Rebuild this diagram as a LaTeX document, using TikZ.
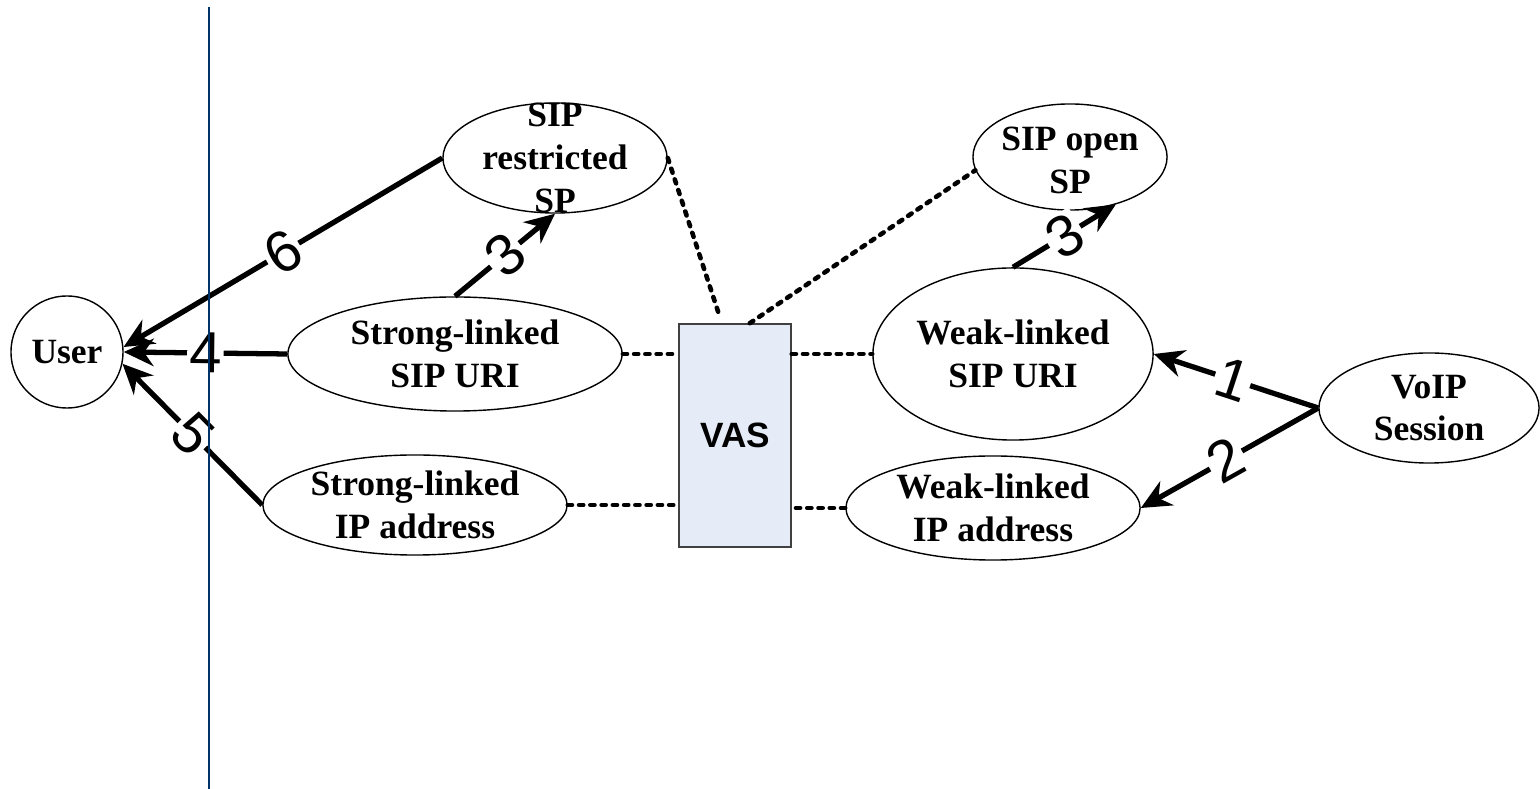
\documentclass[tikz,border=0pt]{standalone}
\usepackage{fontspec}
\setmainfont{Liberation Serif}
\setsansfont{Liberation Sans}
\usetikzlibrary{shapes.geometric,arrows.meta,calc}
\definecolor{vasfill}{RGB}{230,236,247}
\definecolor{rulecol}{RGB}{0,51,102}
\tikzset{
  ell/.style={ellipse, draw, line width=0.4pt, inner sep=0pt},
  txt/.style={font=\fontsize{10.1}{12.2}\selectfont\bfseries, align=center, inner sep=0pt},
  flow/.style={line width=1.5pt, -{Stealth[length=8.5pt,width=7.8pt]}},
  link/.style={line width=1.3pt, line cap=round, dash pattern=on 1.2pt off 2.0pt},
  num/.style={font=\sffamily\fontsize{16.5}{16.5}\selectfont, fill=white, inner sep=0.6pt, sloped},
}
\begin{document}
\begin{tikzpicture}[x=0.01cm,y=-0.01cm]
\useasboundingbox (0,0) rectangle (1540,789);

% entities
\node[circle, draw, line width=0.4pt, minimum size=1.12cm, inner sep=0pt] (user) at (67,352) {};
\node[txt] (usert) at (user) {User};

\node[ell, minimum width=2.24cm, minimum height=1.10cm] (sr) at (555,158) {};
\node[txt] (srt) at (555,158) {SIP\\restricted\\SP};

\node[ell, minimum width=3.34cm, minimum height=1.14cm] (ssu) at (455,354) {};
\node[txt] (ssut) at (ssu) {Strong-linked\\SIP URI};

\node[ell, minimum width=3.04cm, minimum height=1.00cm] (sip) at (415,505) {};
\node[txt] (sipt) at (sip) {Strong-linked\\IP address};

\node[draw=black!75, line width=0.4pt, fill=vasfill, minimum width=1.12cm, minimum height=2.23cm, inner sep=0pt] (vas) at (735,435.5) {};
\node[font=\sffamily\bfseries\fontsize{10}{11}\selectfont] (vast) at (vas) {VAS};

\node[ell, minimum width=1.94cm, minimum height=1.06cm] (sop) at (1070,157) {};
\node[txt] (sopt) at (1070,160) {SIP open\\SP};

\node[ell, minimum width=2.80cm, minimum height=1.72cm] (wsu) at (1013,354) {};
\node[txt] (wsut) at (wsu) {Weak-linked\\SIP URI};

\node[ell, minimum width=2.94cm, minimum height=1.04cm] (wip) at (993,508) {};
\node[txt] (wipt) at (wip) {Weak-linked\\IP address};

\node[ell, minimum width=2.20cm, minimum height=1.10cm] (vs) at (1429,408) {};
\node[txt] (vst) at (vs) {VoIP\\Session};

% attachment points on the VAS box
\coordinate (vtl) at ($(vas.north west)!0.37!(vas.north east)+(0,-5)$);
\coordinate (vtr) at ($(vas.north west)!0.63!(vas.north east)$);

% dotted links to the VAS
\draw[link] (sr.east) -- (vtl);
\draw[link] (vtr) -- (sop.188);
\draw[link] (ssu.east) -- (vas.west |- ssu.east);
\draw[link] (vas.east |- wsu.west) -- (wsu.west);
\draw[link, shorten >=0.9pt] (sip.east) -- (vas.west |- sip.east);
\draw[link, shorten <=1.2pt] (vas.east |- wip.west) -- (wip.west);

% numbered steps
\draw[flow] (vs.west) -- node[num, pos=0.52] (n1) {1} (wsu.east);
\draw[flow] (vs.west) -- node[num, pos=0.52] (n2) {2} (wip.east);
\draw[flow] (ssu.north) -- node[num] (n3a) {3} (sr.south);
\draw[flow] (wsu.north) -- node[num] (n3b) {3} (sop.-46);
\draw[flow] (ssu.west) -- node[num] (n4) {4} (user.east);
\draw[flow] (sip.west) -- node[num, pos=0.5] (n5) {5} (user.-12);
\draw[flow] (sr.west) -- node[num] (n6) {6} (user.5);

% vertical rule
\coordinate (rtop) at (209,7);
\coordinate (rbot) at (209,789);
\draw[rulecol, line width=0.6pt] (rtop) -- (rbot);
\end{tikzpicture}
\end{document}
